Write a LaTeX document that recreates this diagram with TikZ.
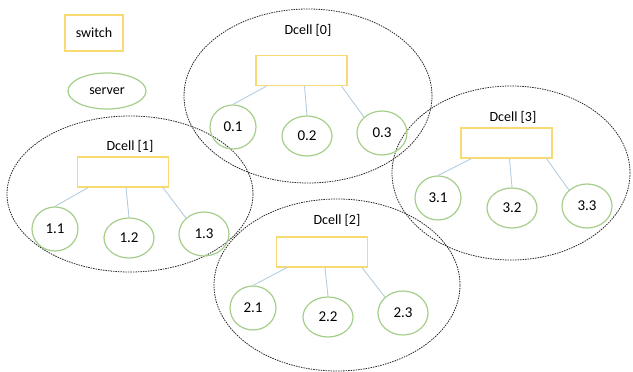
\documentclass[tikz,border=0pt]{standalone}
\usepackage{fontspec}
\setmainfont{Carlito}
\usetikzlibrary{shapes.geometric}
\definecolor{swy}{RGB}{248,218,115}
\definecolor{srvg}{RGB}{165,206,138}
\definecolor{lnk}{RGB}{180,205,225}
\definecolor{dc}{RGB}{40,40,40}
\tikzset{
  swbox/.style={draw=swy,line width=1.2pt,minimum width=91pt,minimum height=30pt,inner sep=0pt},
  srv/.style={draw=srvg,line width=1.2pt,ellipse,minimum width=50pt,minimum height=40pt,inner sep=0pt,font=\fontsize{15}{17}\selectfont},
  srvs/.style={srv,minimum width=46pt,minimum height=44pt},
  srvw/.style={srv,minimum width=50pt,minimum height=44pt},
  cell/.style={draw=dc,line width=0.8pt,dash pattern=on 1.5pt off 1pt,ellipse,inner sep=0pt},
  lbl/.style={font=\fontsize{14}{16}\selectfont,inner sep=0pt},
  lk/.style={draw=lnk,line width=0.9pt}
}
\begin{document}
\begin{tikzpicture}[x=1pt,y=-1pt]
\useasboundingbox (0,0) rectangle (633,372);
% legend
\node[swbox,minimum width=58pt,minimum height=36pt,lbl] (legsw) at (94,33) {switch};
\node[srv,minimum width=78pt,minimum height=36pt,font=\fontsize{14}{16}\selectfont] (legsrv) at (107,91) {server};
% cells
\node[cell,minimum width=248pt,minimum height=174pt] (c0) at (308,96) {};
\node[cell,minimum width=246pt,minimum height=156pt] (c1) at (130,194) {};
\node[cell,minimum width=246pt,minimum height=172pt] (c2) at (337,285) {};
\node[cell,minimum width=238pt,minimum height=174pt] (c3) at (511,173) {};
% Dcell 0
\node[lbl] (l0) at (308,30) {Dcell [0]};
\node[swbox] (s0) at (301.5,70.5) {};
\node[srvs] (n01) at (233,127) {0.1};
\node[srv] (n02) at (307,136) {0.2};
\node[srvw] (n03) at (382,133) {0.3};
% Dcell 1
\node[lbl] (l1) at (130,146) {Dcell [1]};
\node[swbox] (s1) at (123,172) {};
\node[srvs] (n11) at (55,229) {1.1};
\node[srv] (n12) at (129,238) {1.2};
\node[srvw] (n13) at (204,234) {1.3};
% Dcell 2
\node[lbl] (l2) at (337,220) {Dcell [2]};
\node[swbox] (s2) at (322,252) {};
\node[srvs] (n21) at (253,308) {2.1};
\node[srv] (n22) at (328,317) {2.2};
\node[srvw] (n23) at (403,313) {2.3};
% Dcell 3
\node[lbl] (l3) at (513,117) {Dcell [3]};
\node[swbox] (s3) at (506.5,143) {};
\node[srvs] (n31) at (438,198) {3.1};
\node[srv] (n32) at (512,208) {3.2};
\node[srvw] (n33) at (587,206) {3.3};
% links
\foreach \c in {0,1,2,3}{
  \draw[lk] ([xshift=-35pt]s\c.south) -- (n\c1.north);
  \draw[lk] ([xshift=3pt]s\c.south) -- (n\c2.north);
  \draw[lk] ([xshift=40pt]s\c.south) -- (n\c3.north west);
}
\end{tikzpicture}
\end{document}
